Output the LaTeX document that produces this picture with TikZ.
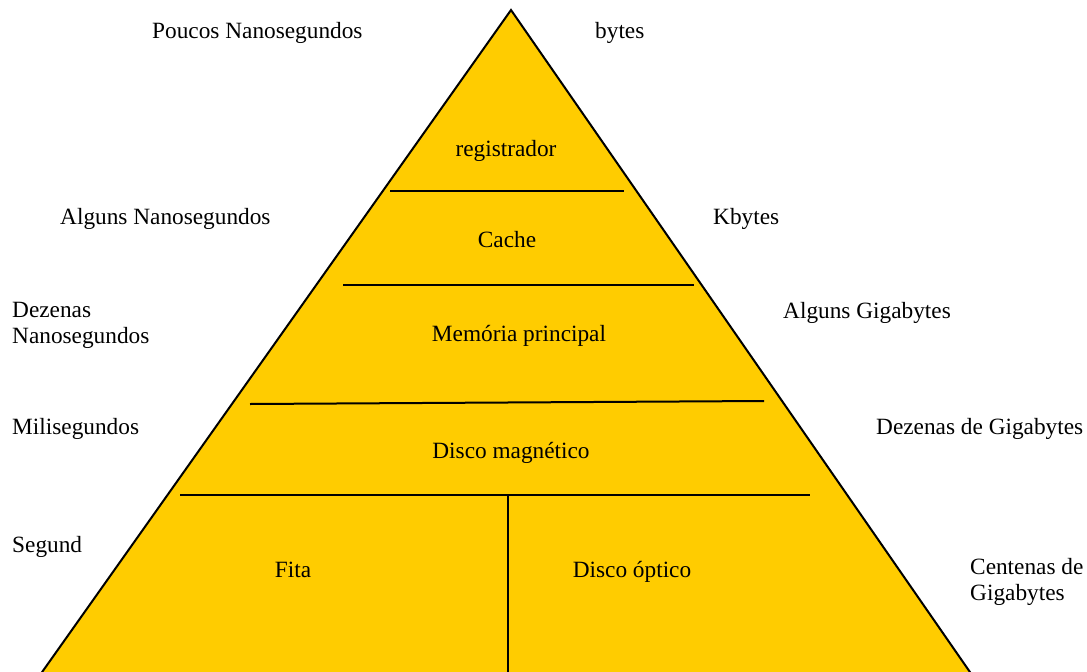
\documentclass[tikz,border=0pt]{standalone}
\usepackage{fontspec}
\setmainfont{Liberation Serif}
\begin{document}
\begin{tikzpicture}[x=1pt,y=-1pt,
  txt/.style={inner sep=0pt, font=\fontsize{23.3}{26}\selectfont},
  side/.style={txt, anchor=base west, align=left},
  level/.style={txt, anchor=base},
  divider/.style={line width=2pt, black}]
  \useasboundingbox (0,0) rectangle (1087,672);
  \begin{scope}
    \clip (0,0) rectangle (1087,672);
    % pyramid body, open at the bottom edge
    \coordinate (apex) at (511,10);
    \coordinate (bl) at (40,675);
    \coordinate (br) at (972,675);
    \fill[fill={rgb,255:red,255;green,204;blue,0}] (bl) -- (apex) -- (br) -- cycle;
    \draw[divider, line join=miter] (bl) -- (apex) -- (br);
  \end{scope}
  % level separators
  \coordinate (s1a) at (390,191); \coordinate (s1b) at (624,191);
  \coordinate (s2a) at (343,285); \coordinate (s2b) at (694,285);
  \coordinate (s3a) at (250,404); \coordinate (s3b) at (764,401);
  \coordinate (s4a) at (180,495); \coordinate (s4b) at (810,495);
  \coordinate (v1) at (508,495); \coordinate (v2) at (508,672);
  \draw[divider] (s1a) -- (s1b);
  \draw[divider] (s2a) -- (s2b);
  \draw[divider] (s3a) -- (s3b);
  \draw[divider] (s4a) -- (s4b);
  \draw[divider] (v1) -- (v2);
  % level names
  \node[level] (reg) at (506,156) {registrador};
  \node[level] (cache) at (507,247) {Cache};
  \node[level] (mem) at (519,341) {Memória principal};
  \node[level] (disk) at (511,458) {Disco magnético};
  \node[level] (tape) at (293,577) {Fita};
  \node[level] (opt) at (632,577) {Disco óptico};
  % access times (multi-line nodes are placed by their last baseline)
  \node[side] (t1) at (152,38) {Poucos Nanosegundos};
  \node[side] (t2) at (60,224) {Alguns Nanosegundos};
  \node[side] (t3) at (12,343) {Dezenas\\Nanosegundos};
  \node[side] (t4) at (12,434) {Milisegundos};
  \node[side] (t5) at (12,552) {Segund};
  % capacities
  \node[side] (c1) at (595,38) {bytes};
  \node[side] (c2) at (713,224) {Kbytes};
  \node[side] (c3) at (783,318) {Alguns Gigabytes};
  \node[side] (c4) at (876,434) {Dezenas de Gigabytes};
  \node[side] (c5) at (970,600) {Centenas de\\Gigabytes};
\end{tikzpicture}
\end{document}
